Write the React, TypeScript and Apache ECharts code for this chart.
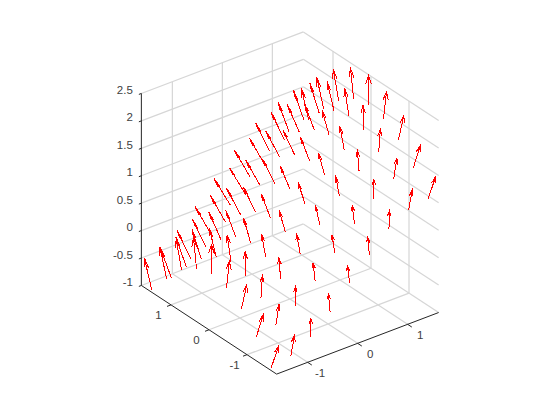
import React, { useEffect, useRef } from "react";
import * as echarts from "echarts";

// Tick labels and axis limits
const xTicks = [-1, 0, 1];
const yTicks = [-1, 0, 1];
const zTicks = [-1, -0.5, 0, 0.5, 1, 1.5, 2, 2.5];
const xLim = [-1.62, 1.62];
const yLim = [-1.78, 1.78];
const zLim = [-1, 2.5];

// Grid of arrow tails
const xGrid = [-1.571, -1.178, -0.785, -0.393, 0, 0.393, 0.785, 1.178, 1.571];
const yGrid = [-1.571, -1.178, -0.785, -0.393, 0, 0.393, 0.785, 1.178, 1.571];

// Rows follow yGrid, columns follow xGrid
const zRows = [
  [-1, -0.92, -0.71, -0.38, 0, 0.38, 0.71, 0.92, 1],
  [-0.62, -0.54, -0.32, 0, 0.38, 0.77, 1.09, 1.31, 1.38],
  [-0.29, -0.22, 0, 0.32, 0.71, 1.09, 1.41, 1.63, 1.71],
  [-0.08, 0, 0.22, 0.54, 0.92, 1.31, 1.63, 1.85, 1.92],
  [0, 0.08, 0.29, 0.62, 1, 1.38, 1.71, 1.92, 2],
  [-0.08, 0, 0.22, 0.54, 0.92, 1.31, 1.63, 1.85, 1.92],
  [-0.29, -0.22, 0, 0.32, 0.71, 1.09, 1.41, 1.63, 1.71],
  [-0.62, -0.54, -0.32, 0, 0.38, 0.77, 1.09, 1.31, 1.38],
  [-1, -0.92, -0.71, -0.38, 0, 0.38, 0.71, 0.92, 1],
];
const uRows = [
  [0, -0.075, -0.135, -0.172, -0.184, -0.172, -0.135, -0.075, 0],
  [0, -0.075, -0.136, -0.174, -0.186, -0.174, -0.136, -0.075, 0],
  [0, -0.077, -0.139, -0.177, -0.19, -0.177, -0.139, -0.077, 0],
  [0, -0.079, -0.143, -0.182, -0.195, -0.182, -0.143, -0.079, 0],
  [0, -0.08, -0.144, -0.184, -0.197, -0.184, -0.144, -0.08, 0],
  [0, -0.079, -0.143, -0.182, -0.195, -0.182, -0.143, -0.079, 0],
  [0, -0.077, -0.139, -0.177, -0.19, -0.177, -0.139, -0.077, 0],
  [0, -0.075, -0.136, -0.174, -0.186, -0.174, -0.136, -0.075, 0],
  [0, -0.075, -0.135, -0.172, -0.184, -0.172, -0.135, -0.075, 0],
];
const vRows = [
  [-0.197, -0.195, -0.19, -0.186, -0.184, -0.186, -0.19, -0.195, -0.197],
  [-0.184, -0.182, -0.177, -0.174, -0.172, -0.174, -0.177, -0.182, -0.184],
  [-0.144, -0.143, -0.139, -0.136, -0.135, -0.136, -0.139, -0.143, -0.144],
  [-0.08, -0.079, -0.077, -0.075, -0.075, -0.075, -0.077, -0.079, -0.08],
  [0, 0, 0, 0, 0, 0, 0, 0, 0],
  [0.08, 0.079, 0.077, 0.075, 0.075, 0.075, 0.077, 0.079, 0.08],
  [0.144, 0.143, 0.139, 0.136, 0.135, 0.136, 0.139, 0.143, 0.144],
  [0.184, 0.182, 0.177, 0.174, 0.172, 0.174, 0.177, 0.182, 0.184],
  [0.197, 0.195, 0.19, 0.186, 0.184, 0.186, 0.19, 0.195, 0.197],
];
const wRows = [
  [0.492, 0.487, 0.476, 0.465, 0.461, 0.465, 0.476, 0.487, 0.492],
  [0.497, 0.492, 0.48, 0.47, 0.465, 0.47, 0.48, 0.492, 0.497],
  [0.51, 0.505, 0.492, 0.48, 0.476, 0.48, 0.492, 0.505, 0.51],
  [0.524, 0.518, 0.505, 0.492, 0.487, 0.492, 0.505, 0.518, 0.524],
  [0.53, 0.524, 0.51, 0.497, 0.492, 0.497, 0.51, 0.524, 0.53],
  [0.524, 0.518, 0.505, 0.492, 0.487, 0.492, 0.505, 0.518, 0.524],
  [0.51, 0.505, 0.492, 0.48, 0.476, 0.48, 0.492, 0.505, 0.51],
  [0.497, 0.492, 0.48, 0.47, 0.465, 0.47, 0.48, 0.492, 0.497],
  [0.492, 0.487, 0.476, 0.465, 0.461, 0.465, 0.476, 0.487, 0.492],
];

const RED = "#ff0000";
const GRID = "#d6d6d6";
const INK = "#262626";
const TEXT = "#404040";

// View transform of the 3D box on the page
function project(x: number, y: number, z: number): number[] {
  return [
    290 + 50 * x - 38 * y,
    299 - 19 * x - 24.9 * y - (192 / 3.5) * (z - zLim[0]),
  ];
}

type Seg = [number[], number[], string];

function boxSegments(): Seg[] {
  const s: Seg[] = [];
  const [x0, x1] = xLim;
  const [y0, y1] = yLim;
  const [z0, z1] = zLim;
  const add = (a: number[], b: number[], c: string) => s.push([a, b, c]);
  for (const t of xTicks) {
    add([t, y0, z0], [t, y1, z0], GRID);
    add([t, y1, z0], [t, y1, z1], GRID);
  }
  for (const t of yTicks) {
    add([x0, t, z0], [x1, t, z0], GRID);
    add([x1, t, z0], [x1, t, z1], GRID);
  }
  for (const t of zTicks) {
    add([x0, y1, t], [x1, y1, t], GRID);
    add([x1, y1, t], [x1, y0, t], GRID);
  }
  add([x0, y1, z0], [x0, y1, z1], INK);
  add([x0, y0, z0], [x0, y1, z0], INK);
  add([x0, y0, z0], [x1, y0, z0], INK);
  for (const t of xTicks) add([t, y0, z0], [t, y0 - 0.11, z0], INK);
  for (const t of yTicks) add([x0, t, z0], [x0 - 0.08, t, z0], INK);
  for (const t of zTicks) add([x0, y1, t], [x0 - 0.05, y1, t], INK);
  return s;
}

function arrowData(): number[][] {
  const out: number[][] = [];
  yGrid.forEach((y, n) =>
    xGrid.forEach((x, a) =>
      out.push([x, y, zRows[n][a], uRows[n][a], vRows[n][a], wRows[n][a]])
    )
  );
  return out;
}

function labelData() {
  const out: { text: string; p: number[]; dx: number; dy: number; align: string }[] = [];
  for (const t of xTicks)
    out.push({ text: String(t), p: project(t, yLim[0], zLim[0]), dx: 12.5, dy: 11, align: "center" });
  for (const t of yTicks)
    out.push({ text: String(t), p: project(xLim[0], t, zLim[0]), dx: -12.5, dy: 10, align: "center" });
  for (const t of zTicks)
    out.push({ text: String(t), p: project(xLim[0], yLim[1], t), dx: -8.5, dy: -3.5, align: "right" });
  return out;
}

export default function App() {
  const ref = useRef<HTMLDivElement>(null);
  useEffect(() => {
    document.body.style.margin = "0";
    const sheet = document.createElement("style");
    sheet.textContent = `path[stroke="${RED}"]{shape-rendering:crispEdges}`;
    document.head.appendChild(sheet);
    const chart = echarts.init(ref.current!, undefined, { renderer: "svg" });
    const segs = boxSegments();
    const labels = labelData();
    chart.setOption({
      animation: false,
      backgroundColor: "#ffffff",
      grid: { left: 0, right: 0, top: 0, bottom: 0 },
      xAxis: { type: "value", min: 0, max: 560, show: false },
      yAxis: { type: "value", min: 0, max: 420, inverse: true, show: false },
      series: [
        {
          type: "custom",
          coordinateSystem: "cartesian2d",
          silent: true,
          clip: false,
          z: 1,
          data: segs.map((_, i) => [i]),
          renderItem: (params: any, api: any) => {
            const [a, b, c] = segs[params.dataIndex];
            const p = api.coord(project(a[0], a[1], a[2]));
            const q = api.coord(project(b[0], b[1], b[2]));
            return {
              type: "line",
              shape: { x1: p[0], y1: p[1], x2: q[0], y2: q[1] },
              style: { stroke: c, lineWidth: c === GRID ? 1.2 : 1, fill: "none" },
            };
          },
        },
        {
          type: "custom",
          coordinateSystem: "cartesian2d",
          silent: true,
          clip: false,
          z: 2,
          data: arrowData(),
          renderItem: (params: any, api: any) => {
            const x = api.value(0), y = api.value(1), z = api.value(2);
            const u = api.value(3), v = api.value(4), w = api.value(5);
            const back = 0.3;
            const narrow = Math.max(0.38, 1 - 1.6 * Math.abs(v) + 3.3 * u * (1 + 5 * v));
            const side = 0.065 * narrow * w;
            const bx = x + u * (1 - back), by = y + v * (1 - back), bz = z + w * (1 - back);
            const tail = api.coord(project(x, y, z));
            const tip = api.coord(project(x + u, y + v, z + w));
            const b1 = api.coord(project(bx + side, by - side, bz));
            const b2 = api.coord(project(bx - side, by + side, bz));
            return {
              type: "polyline",
              shape: { points: [tail, tip, b1, tip, b2] },
              style: { stroke: RED, lineWidth: 1, fill: "none" },
            };
          },
        },
        {
          type: "custom",
          coordinateSystem: "cartesian2d",
          silent: true,
          clip: false,
          z: 3,
          data: labels.map((_, i) => [i]),
          renderItem: (params: any, api: any) => {
            const l = labels[params.dataIndex];
            const c = api.coord(l.p);
            return {
              type: "text",
              x: c[0] + l.dx,
              y: c[1] + l.dy,
              style: {
                text: l.text,
                fill: TEXT,
                fontSize: 11.5,
                fontFamily: "Liberation Sans",
                align: l.align,
                verticalAlign: "middle",
              },
            };
          },
        },
      ],
    });
    return () => {
      chart.dispose();
      sheet.remove();
    };
  }, []);
  return <div ref={ref} style={{ width: 560, height: 420 }} />;
}
